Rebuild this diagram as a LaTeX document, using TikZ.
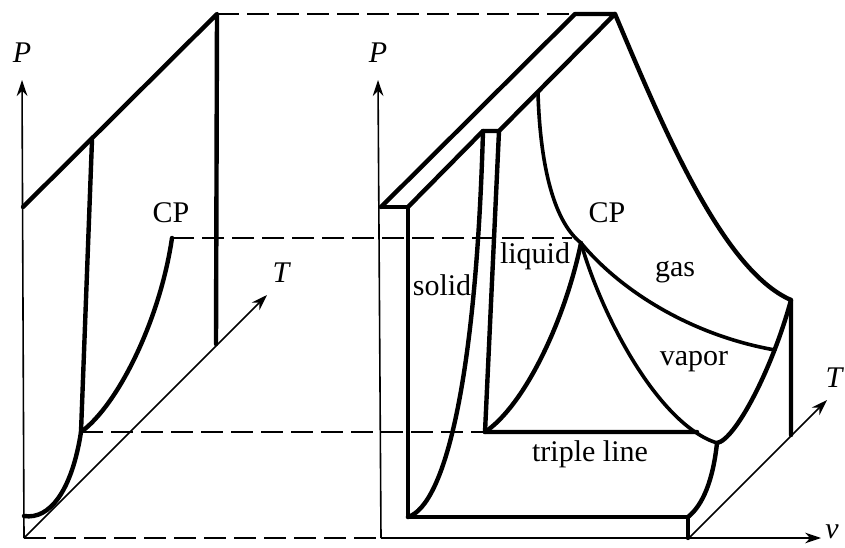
\documentclass[tikz,border=0pt]{standalone}
\usepackage{fontspec}
\setmainfont{Liberation Serif}
\usetikzlibrary{arrows.meta}
\tikzset{
 x=0.75pt,y=-0.75pt,
 thick line/.style={line width=3.3pt,line cap=round,line join=round},
 mid line/.style={line width=2.7pt,line cap=round,line join=round},
 axis line/.style={line width=1.2pt,-{Stealth[length=12pt,width=8pt]}},
 guide/.style={line width=1.3pt,dash pattern=on 16.5pt off 6pt},
 lab/.style={font=\fontsize{22.5}{24}\selectfont,inner sep=0pt},
 axlab/.style={font=\fontsize{22.5}{24}\selectfont\itshape,inner sep=0pt}
}
\begin{document}
\begin{tikzpicture}
\useasboundingbox (0,0) rectangle (845,548);
% named coordinates
\coordinate (LO) at (24,538);
\coordinate (LP) at (22,80);
\coordinate (LT) at (267,295);
\coordinate (RO) at (381,538);
\coordinate (RP) at (378,80);
\coordinate (RV) at (821,538);
\coordinate (RB) at (689,538);
\coordinate (RT) at (827,400);
\coordinate (LA) at (23,207);
\coordinate (LB) at (217,14);
\coordinate (LC) at (216,344);
\coordinate (LD) at (92,140);
\coordinate (LE) at (81,432);
\coordinate (LF) at (172,238);
\coordinate (LG) at (24,516);
\coordinate (A) at (381,207);
\coordinate (B) at (408,207);
\coordinate (C) at (575,14);
\coordinate (D) at (615,14);
\coordinate (E) at (408,517);
\coordinate (F) at (688,517);
\coordinate (G) at (688,538);
\coordinate (H) at (717,443);
\coordinate (I) at (791,300);
\coordinate (J) at (791,435);
\coordinate (K) at (581,243);
\coordinate (KG) at (572,238);
\coordinate (L) at (538,93);
\coordinate (M) at (775,350);
\coordinate (N) at (485,432);
\coordinate (O) at (697,432);
\coordinate (Q) at (483,131);
\coordinate (R) at (499,131);
% axes
\draw[axis line] (LO) -- (LP);
\draw[axis line] (LO) -- (LT);
\draw[axis line] (RO) -- (RP);
\draw[axis line] (RB) -- (RV);
\draw[axis line] (RB) -- (RT);
\draw[line width=1.2pt] (RO) -- (RB);
% guides
\draw[guide] (LO) -- (RO);
\draw[guide] (LB) -- (C);
\draw[guide] (LF) -- (KG);
\draw[guide] (LE) -- (N);
% left diagram
\draw[thick line] (LA) -- (LB) -- (LC);
\draw[thick line] (LD) -- (LE);
\draw[thick line] (LG) .. controls (50,520) and (72,490) .. (LE);
\draw[thick line] (LE) .. controls (118,405) and (160,320) .. (LF);
% right diagram
\draw[thick line] (A) -- (B) -- (E) -- (F) -- (G);
\draw[thick line] (A) -- (C) -- (D) -- (R) -- (Q) -- (B);
\draw[thick line] (E) .. controls (445,505) and (476,380) .. (Q);
\draw[thick line] (R) -- (N) -- (O);
\draw[thick line] (F) .. controls (703,505) and (713,480) .. (H);
\draw[mid line] (L) .. controls (540,160) and (552,220) .. (K);
\draw[mid line] (K) .. controls (603,320) and (660,425) .. (H);
\draw[thick line] (H) .. controls (735,440) and (772,370) .. (I);
\draw[thick line] (D) .. controls (662,125) and (722,270) .. (I) -- (J);
\draw[mid line] (K) .. controls (620,290) and (690,335) .. (M);
\draw[thick line] (N) .. controls (525,405) and (565,320) .. (K);
% labels
\node[axlab] (lP) at (22,53) {P};
\node[axlab] (rP) at (378,53) {P};
\node[axlab] (lT) at (281,273) {T};
\node[axlab] (rT) at (834,378) {T};
\node[axlab] (rv) at (832,532) {v};
\node[lab] (cp1) at (171,213) {CP};
\node[lab] (cp2) at (607,213) {CP};
\node[lab] (solid) at (442,285) {solid};
\node[lab] (liquid) at (535,256) {liquid};
\node[lab] (gas) at (675,272) {gas};
\node[lab] (vapor) at (694,362) {vapor};
\node[lab] (triple) at (590,454) {triple line};
\end{tikzpicture}
\end{document}
